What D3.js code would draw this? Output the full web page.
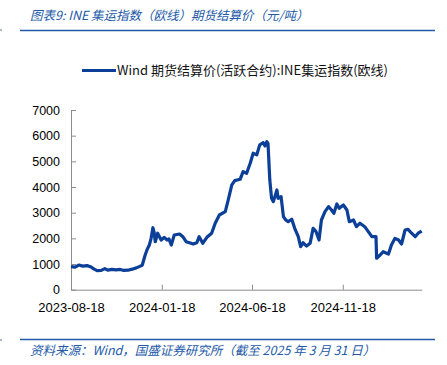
<!DOCTYPE html>
<html>
<head>
<meta charset="utf-8">
<script src="https://cdn.jsdelivr.net/npm/d3@7/dist/d3.min.js"></script>
<style>
	body { margin: 0; background: #fff; }
	svg { display: block; }
</style>
</head>
<body>
<svg id="chart" width="447" height="365"></svg>
<script>
/*=================
=== Data
=================*/
const dates = [
	'2023-08-18','2023-08-25','2023-08-31','2023-09-07','2023-09-14','2023-09-21','2023-09-26',
	'2023-10-01','2023-10-08','2023-10-14','2023-10-19','2023-10-26','2023-11-02','2023-11-09',
	'2023-11-15','2023-11-22','2023-11-29','2023-12-06','2023-12-11','2023-12-16','2023-12-21',
	'2023-12-24','2023-12-28','2023-12-31','2024-01-03','2024-01-05','2024-01-07','2024-01-11',
	'2024-01-17','2024-01-22','2024-01-27','2024-01-30','2024-02-03','2024-02-08','2024-02-17',
	'2024-02-23','2024-02-28','2024-03-06','2024-03-11','2024-03-17','2024-03-21','2024-03-27',
	'2024-04-03','2024-04-11','2024-04-17','2024-04-24','2024-05-04','2024-05-09','2024-05-15',
	'2024-05-20','2024-05-29','2024-06-03','2024-06-09','2024-06-15','2024-06-20','2024-06-26',
	'2024-07-01','2024-07-07','2024-07-10','2024-07-13','2024-07-15','2024-07-18','2024-07-21',
	'2024-07-24','2024-07-30','2024-08-01','2024-08-06','2024-08-10','2024-08-14','2024-08-18',
	'2024-08-24','2024-08-29','2024-09-04','2024-09-08','2024-09-12','2024-09-18','2024-09-24',
	'2024-09-29','2024-10-04','2024-10-09','2024-10-13','2024-10-19','2024-10-25','2024-10-30',
	'2024-11-03','2024-11-08','2024-11-12','2024-11-19','2024-11-25','2024-11-29','2024-12-06',
	'2024-12-11','2024-12-17','2024-12-25','2024-12-31','2025-01-06','2025-01-13','2025-01-14',
	'2025-01-20','2025-01-25','2025-02-03','2025-02-08','2025-02-14','2025-02-20','2025-02-25',
	'2025-03-03','2025-03-08','2025-03-14','2025-03-20','2025-03-25','2025-03-31'
];
const prices = [
	900, 880, 960, 920, 940, 880, 800,
	740, 750, 820, 760, 790, 770, 790,
	750, 760, 800, 850, 900, 950, 1350,
	1550, 1740, 2000, 2415, 2250, 1870, 2200,
	1935, 2040, 1935, 1980, 1740, 2130, 2170,
	2050, 1870, 1820, 1780, 1830, 2065, 1810,
	2040, 2200, 2590, 2910, 3040, 3495, 4080,
	4250, 4300, 4600, 4535, 4925, 5315, 5250,
	5640, 5725, 5600, 5765, 5700, 4275, 3560,
	3430, 3885, 3560, 3625, 2845, 2715, 2650,
	2745, 2390, 2065, 1675, 1830, 1700, 1810,
	2390, 2260, 1935, 2715, 3040, 3235, 3105,
	2975, 3340, 3170, 3300, 3105, 2650, 2715,
	2455, 2590, 2455, 2260, 2065, 2065, 1225,
	1350, 1480, 1390, 1740, 2000, 1935, 1780,
	2325, 2350, 2200, 2065, 2200, 2285
];
const xTickLabels = ['2023-08-18', '2024-01-18', '2024-06-18', '2024-11-18'];
const yTicks = [0, 1000, 2000, 3000, 4000, 5000, 6000, 7000];

const titleText = '图表9:  INE 集运指数（欧线）期货结算价（元/吨）';
const legendText = 'Wind 期货结算价(活跃合约):INE集运指数(欧线)';
const sourceText = '资料来源：Wind，国盛证券研究所（截至 2025 年 3 月 31 日）';

/*=================
=== Setup
=================*/
const parseDate = d3.timeParse('%Y-%m-%d');
const seriesData = dates.map((d, i) => ({ date: parseDate(d), value: prices[i] }));

const lineColor = '#0b3f98';
const headColor = '#2359a8';
const axisColor = '#8c8c8c';
const numFont = '"Liberation Sans", Arial, sans-serif';
const cjkFont = '"Noto Sans CJK SC", "Liberation Sans", sans-serif';

const svg = d3.select('#chart');

const xScale = d3.scaleTime()
	.domain([parseDate('2023-08-18'), parseDate('2025-03-31')])
	.range([71, 421.7]);
const yScale = d3.scaleLinear()
	.domain([0, 7000])
	.range([289.7, 110]);

/*=================
=== Header & footer
=================*/
svg.append('text')
	.attr('x', 30)
	.attr('y', 20)
	.attr('fill', headColor)
	.style('font-family', cjkFont)
	.style('font-size', '12.5px')
	.style('font-style', 'italic')
	.text(titleText);

svg.append('line')
	.attr('x1', 20).attr('x2', 435)
	.attr('y1', 30.5).attr('y2', 30.5)
	.attr('stroke', headColor)
	.attr('stroke-width', 1.6);

svg.append('line')
	.attr('x1', 20).attr('x2', 435)
	.attr('y1', 339.5).attr('y2', 339.5)
	.attr('stroke', headColor)
	.attr('stroke-width', 1.6);

svg.append('text')
	.attr('x', 30)
	.attr('y', 355)
	.attr('fill', headColor)
	.style('font-family', cjkFont)
	.style('font-size', '12.5px')
	.style('font-style', 'italic')
	.text(sourceText);

// tiny marks on the left edge
[30, 340].forEach(y => {
	svg.append('rect')
		.attr('x', 0).attr('y', y - 1)
		.attr('width', 2).attr('height', 2)
		.attr('fill', '#b0b8c8');
});

/*=================
=== Legend
=================*/
svg.append('line')
	.attr('x1', 82).attr('x2', 116)
	.attr('y1', 70.5).attr('y2', 70.5)
	.attr('stroke', lineColor)
	.attr('stroke-width', 3);

svg.append('text')
	.attr('x', 117)
	.attr('y', 75)
	.attr('fill', '#111')
	.style('font-family', cjkFont)
	.style('font-size', '13px')
	.text(legendText);

/*=================
=== Axes
=================*/
const xAxis = svg.append('g')
	.attr('transform', `translate(0, ${yScale(0)})`)
	.call(d3.axisBottom(xScale)
		.tickValues(xTickLabels.map(parseDate))
		.tickFormat(d3.timeFormat('%Y-%m-%d'))
		.tickSizeInner(-5)
		.tickSizeOuter(0)
		.tickPadding(13));

const yAxis = svg.append('g')
	.attr('transform', `translate(${xScale.range()[0]}, 0)`)
	.call(d3.axisLeft(yScale)
		.tickValues(yTicks)
		.tickFormat(d3.format('d'))
		.tickSizeInner(-5)
		.tickSizeOuter(0)
		.tickPadding(11));

[xAxis, yAxis].forEach(ax => {
	ax.select('.domain').attr('stroke', axisColor);
	ax.selectAll('.tick line').attr('stroke', axisColor);
	ax.selectAll('.tick text')
		.attr('fill', '#000')
		.style('font-family', numFont);
});
xAxis.selectAll('.tick text').style('font-size', '13px');
yAxis.selectAll('.tick text').style('font-size', '12.5px');

/*=================
=== Line
=================*/
const line = d3.line()
	.x(d => xScale(d.date))
	.y(d => yScale(d.value));

svg.append('path')
	.datum(seriesData)
	.attr('fill', 'none')
	.attr('stroke', lineColor)
	.attr('stroke-width', 3.2)
	.attr('stroke-linejoin', 'round')
	.attr('d', line);
</script>
</body>
</html>
